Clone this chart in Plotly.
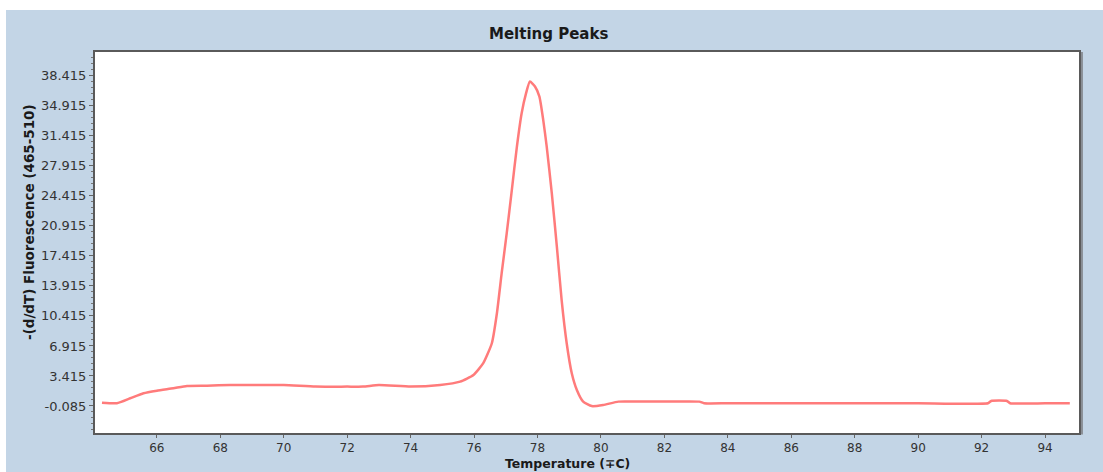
import plotly.graph_objects as go

# ---- data ----
temperature = [64.27, 64.74, 65.16, 65.58, 66.0, 66.52, 66.95, 67.58, 68.31, 69.0,
               70.0, 71.0, 72.0, 72.5, 73.0, 74.0, 74.93, 75.56, 75.98, 76.29,
               76.56, 76.72, 76.87, 77.03, 77.19, 77.35, 77.50, 77.64, 77.76, 77.92,
               78.06, 78.18, 78.29, 78.45, 78.61, 78.76, 78.92, 79.08, 79.24, 79.44,
               79.71, 80.07, 80.55, 81.2, 82.0, 83.1, 83.25, 84.0, 86.0, 88.0,
               90.0, 92.2, 92.3, 92.8, 92.9, 94.0, 94.78]
fluorescence = [0.30, 0.23, 0.81, 1.40, 1.70, 1.98, 2.25, 2.28, 2.36, 2.36,
                2.36, 2.17, 2.17, 2.17, 2.36, 2.17, 2.36, 2.75, 3.53, 4.90,
                7.23, 10.73, 15.40, 20.07, 25.10, 30.17, 34.06, 36.40, 37.75, 37.17,
                36.00, 33.28, 30.17, 24.73, 18.50, 12.28, 7.23, 3.73, 1.78, 0.42,
                -0.10, 0.03, 0.42, 0.42, 0.42, 0.42, 0.23, 0.23, 0.23, 0.23,
                0.23, 0.23, 0.50, 0.50, 0.23, 0.23, 0.23]

x_tickvals = [66, 68, 70, 72, 74, 76, 78, 80, 82, 84, 86, 88, 90, 92, 94]
y_tickvals = [-0.085, 3.415, 6.915, 10.415, 13.915, 17.415, 20.915,
              24.415, 27.915, 31.415, 34.915, 38.415]
y_ticktext = ["-0.085", "3.415", "6.915", "10.415", "13.915", "17.415", "20.915",
              "24.415", "27.915", "31.415", "34.915", "38.415"]

title_text = "Melting Peaks"
x_title = "Temperature (\u2213C)"
y_title = "-(d/dT) Fluorescence (465-510)"

BLUE = "#c3d5e6"
W, H = 1103, 472
L, R, T, B = 95, 24, 52, 39
pw, ph = W - L - R, H - T - B


def px_x(p):
    return (p - L) / pw


def px_y(p):
    return (H - B - p) / ph


fig = go.Figure()
fig.add_trace(go.Scatter(
    x=temperature, y=fluorescence, mode="lines",
    line=dict(color="#ff7b7b", width=2.5, shape="spline", smoothing=0.5),
    hoverinfo="skip", showlegend=False,
))

fig.update_layout(
    width=W, height=H,
    margin=dict(l=L, r=R, t=T, b=B, pad=0),
    paper_bgcolor="white",
    plot_bgcolor="white",
    showlegend=False,
    shapes=[
        dict(type="rect", xref="paper", yref="paper", layer="below",
             x0=px_x(6), x1=px_x(W + 5), y0=px_y(H + 5), y1=px_y(10),
             fillcolor=BLUE, line=dict(width=0)),
        dict(type="rect", xref="paper", yref="paper", layer="below",
             x0=0, x1=1, y0=0, y1=1,
             fillcolor="white", line=dict(width=0)),
        # frame shadow
        dict(type="line", xref="paper", yref="paper", layer="above",
             x0=1.003, x1=1.003, y0=-0.004, y1=1.0,
             line=dict(color="#8a8f96", width=2)),
    ],
    annotations=[
        dict(text="<b>" + title_text + "</b>", xref="paper", yref="paper",
             x=px_x(548), y=px_y(34), xanchor="center", yanchor="middle",
             showarrow=False, font=dict(family="DejaVu Sans", size=15, color="#1a1a1a")),
        dict(text="<b>" + x_title + "</b>", xref="paper", yref="paper",
             x=px_x(567), y=px_y(463.5), xanchor="center", yanchor="middle",
             showarrow=False, font=dict(family="DejaVu Sans", size=12.5, color="#1a1a1a")),
        dict(text="<b>" + y_title + "</b>", xref="paper", yref="paper",
             x=px_x(29), y=px_y(222), xanchor="center", yanchor="middle",
             textangle=-90, showarrow=False,
             font=dict(family="DejaVu Sans", size=13.5, color="#1a1a1a")),
    ],
)

fig.update_xaxes(
    range=[64.05, 95.07], tickvals=x_tickvals,
    ticks="outside", ticklen=3, tickwidth=1, tickcolor="#666",
    showline=True, linecolor="#5a5a5a", linewidth=2, mirror=True,
    showgrid=False, zeroline=False,
    tickfont=dict(family="DejaVu Sans", size=12, color="#333"),
)
fig.update_yaxes(
    range=[-3.24, 41.2], tickvals=y_tickvals, ticktext=y_ticktext,
    ticks="outside", ticklen=4, tickwidth=1, tickcolor="#666",
    showline=True, linecolor="#5a5a5a", linewidth=2, mirror=True,
    showgrid=False, zeroline=False,
    minor=dict(ticks="outside", ticklen=2, tickcolor="#777", dtick=0.7, tick0=-0.085),
    tickfont=dict(family="DejaVu Sans", size=13, color="#333"),
)

fig.write_html("out.html")
